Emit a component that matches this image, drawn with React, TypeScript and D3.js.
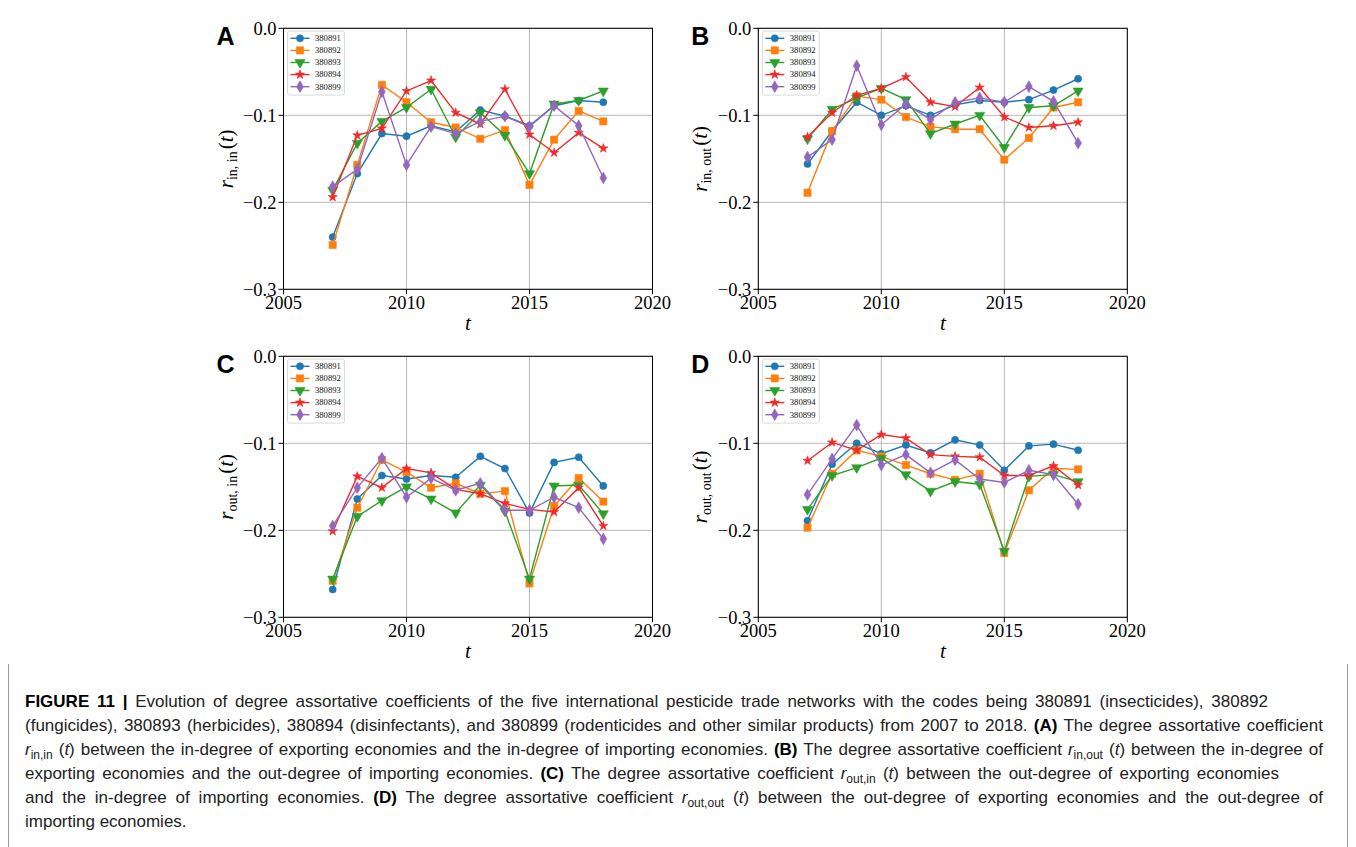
import { useLayoutEffect, useRef } from "react";
import * as d3 from "d3";

const years = [2007, 2008, 2009, 2010, 2011, 2012, 2013, 2014, 2015, 2016, 2017, 2018];
const codes = ["380891", "380892", "380893", "380894", "380899"];
const colors = ["#1f77b4", "#ff7f0e", "#2ca02c", "#f02a2a", "#9467bd"];
const xTicks = [2005, 2010, 2015, 2020];
const yTicks = [0, -0.1, -0.2, -0.3];

// one row per code, in the order of `codes`
const rInIn = [
  [-0.240, -0.167, -0.121, -0.124, -0.112, -0.119, -0.094, -0.101, -0.112, -0.089, -0.083, -0.085],
  [-0.249, -0.157, -0.065, -0.085, -0.108, -0.114, -0.127, -0.117, -0.180, -0.128, -0.095, -0.107],
  [-0.186, -0.132, -0.107, -0.091, -0.070, -0.125, -0.097, -0.123, -0.167, -0.087, -0.083, -0.072],
  [-0.194, -0.123, -0.115, -0.072, -0.060, -0.097, -0.110, -0.070, -0.122, -0.143, -0.120, -0.138],
  [-0.182, -0.162, -0.073, -0.157, -0.113, -0.121, -0.107, -0.101, -0.113, -0.089, -0.112, -0.172],
];
const rInOut = [
  [-0.156, -0.118, -0.085, -0.100, -0.089, -0.100, -0.088, -0.083, -0.085, -0.082, -0.071, -0.058],
  [-0.189, -0.118, -0.078, -0.082, -0.102, -0.113, -0.116, -0.116, -0.151, -0.126, -0.091, -0.085],
  [-0.127, -0.093, -0.080, -0.069, -0.082, -0.121, -0.110, -0.100, -0.137, -0.091, -0.089, -0.072],
  [-0.125, -0.097, -0.077, -0.069, -0.056, -0.085, -0.090, -0.068, -0.102, -0.114, -0.112, -0.108],
  [-0.148, -0.128, -0.043, -0.111, -0.087, -0.105, -0.085, -0.080, -0.085, -0.067, -0.084, -0.132],
];
const rOutIn = [
  [-0.268, -0.164, -0.137, -0.141, -0.137, -0.139, -0.115, -0.129, -0.180, -0.122, -0.116, -0.149],
  [-0.258, -0.174, -0.119, -0.133, -0.151, -0.146, -0.158, -0.155, -0.261, -0.172, -0.140, -0.167],
  [-0.256, -0.184, -0.166, -0.150, -0.164, -0.180, -0.148, -0.178, -0.256, -0.149, -0.148, -0.181],
  [-0.201, -0.138, -0.151, -0.129, -0.134, -0.153, -0.158, -0.169, -0.176, -0.179, -0.151, -0.195],
  [-0.195, -0.151, -0.117, -0.162, -0.140, -0.154, -0.146, -0.177, -0.177, -0.162, -0.174, -0.210],
];
const rOutOut = [
  [-0.189, -0.124, -0.100, -0.112, -0.102, -0.111, -0.096, -0.102, -0.131, -0.103, -0.101, -0.108],
  [-0.197, -0.135, -0.108, -0.115, -0.125, -0.135, -0.142, -0.135, -0.226, -0.154, -0.129, -0.130],
  [-0.176, -0.137, -0.128, -0.117, -0.136, -0.155, -0.144, -0.147, -0.224, -0.138, -0.136, -0.144],
  [-0.120, -0.099, -0.108, -0.090, -0.094, -0.113, -0.115, -0.116, -0.137, -0.137, -0.126, -0.148],
  [-0.159, -0.118, -0.079, -0.125, -0.113, -0.134, -0.119, -0.141, -0.145, -0.131, -0.136, -0.170],
];

const symbols = [d3.symbolCircle, d3.symbolSquare, d3.symbolTriangle, d3.symbolStar, d3.symbolDiamond];
const symbolSizes = [40, 52, 44, 26, 40];

const serif = "'Liberation Serif', 'DejaVu Serif', serif";
const sans = "'Liberation Sans', Arial, sans-serif";

const Marker = ({ i, x, y }: { i: number; x: number; y: number }) => {
  const d = d3.symbol(symbols[i], symbolSizes[i])()!;
  const rot = i === 2 ? " rotate(180)" : "";
  return <path d={d} transform={`translate(${x},${y})${rot}`} fill={colors[i]} stroke={colors[i]} strokeWidth={0.6} />;
};

interface PanelProps {
  letter: string;
  sub: string;
  values: number[][];
  left: number;
  top: number;
}

const Panel = ({ letter, sub, values, left, top }: PanelProps) => {
  const w = 369;
  const h = 261;
  const x = d3.scaleLinear().domain([2005, 2020]).range([left, left + w]);
  const y = d3.scaleLinear().domain([-0.3, 0]).range([top + h, top]);
  const fmt = d3.format(".1f");
  const line = d3
    .line<number>()
    .x((_, i) => x(years[i]))
    .y(v => y(v));

  return (
    <g>
      <text x={left - 67} y={top + 17} fontFamily={sans} fontWeight="bold" fontSize={25}>
        {letter}
      </text>

      {/* grid */}
      {xTicks.map(t => (
        <line key={"gx" + t} x1={x(t)} x2={x(t)} y1={top} y2={top + h} stroke="#b0b0b0" strokeWidth={0.9} />
      ))}
      {yTicks.map(t => (
        <line key={"gy" + t} x1={left} x2={left + w} y1={y(t)} y2={y(t)} stroke="#b0b0b0" strokeWidth={0.9} />
      ))}

      {/* series */}
      {values.map((vals, i) => (
        <g key={codes[i]}>
          <path d={line(vals)!} fill="none" stroke={colors[i]} strokeWidth={1.4} />
          {vals.map((v, j) => (
            <Marker key={j} i={i} x={x(years[j])} y={y(v)} />
          ))}
        </g>
      ))}

      {/* frame */}
      <rect x={left} y={top} width={w} height={h} fill="none" stroke="#000" strokeWidth={1} />

      {/* ticks */}
      {xTicks.map(t => (
        <g key={"tx" + t}>
          <line x1={x(t)} x2={x(t)} y1={top + h} y2={top + h + 5} stroke="#000" strokeWidth={1} />
          <text x={x(t)} y={top + h + 20} textAnchor="middle" fontFamily={serif} fontSize={18.5}>
            {t}
          </text>
        </g>
      ))}
      {yTicks.map(t => (
        <g key={"ty" + t}>
          <line x1={left - 5} x2={left} y1={y(t)} y2={y(t)} stroke="#000" strokeWidth={1} />
          <text x={left - 7} y={y(t)} dy="0.36em" textAnchor="end" fontFamily={serif} fontSize={18.5}>
            {fmt(t)}
          </text>
        </g>
      ))}

      {/* axis labels */}
      <text x={left + w / 2} y={top + h + 41} textAnchor="middle" fontFamily={serif} fontStyle="italic" fontSize={21}>
        t
      </text>
      <text transform={`translate(${left - 51},${top + h / 2}) rotate(-90)`} textAnchor="middle" fontFamily={serif} fontSize={21}>
        <tspan fontStyle="italic">r</tspan>
        <tspan fontSize={14} dy={4}>{sub}</tspan>
        <tspan dy={-4} dx={2}>(</tspan>
        <tspan fontStyle="italic">t</tspan>
        <tspan>)</tspan>
      </text>

      {/* legend */}
      <rect x={left + 4} y={top + 2.8} width={57} height={64} rx={2} fill="#fff" fillOpacity={0.85} stroke="#d0d0d0" strokeWidth={0.8} />
      {codes.map((c, i) => {
        const ly = top + 10 + i * 12.1;
        return (
          <g key={"lg" + c}>
            <line x1={left + 7} x2={left + 26} y1={ly} y2={ly} stroke={colors[i]} strokeWidth={1.4} />
            <Marker i={i} x={left + 16.5} y={ly} />
            <text x={left + 31.5} y={ly} dy="0.33em" fontFamily={serif} fontSize={8.6} fill="#111">
              {c}
            </text>
          </g>
        );
      })}
    </g>
  );
};

type Seg = { t: string; s?: "b" | "i" | "sub" };

const captionLines: Seg[][] = [
  [
    { t: "FIGURE 11 |", s: "b" },
    { t: " Evolution of degree assortative coefficients of the five international pesticide trade networks with the codes being 380891 (insecticides), 380892" },
  ],
  [
    { t: "(fungicides), 380893 (herbicides), 380894 (disinfectants), and 380899 (rodenticides and other similar products) from 2007 to 2018. " },
    { t: "(A)", s: "b" },
    { t: " The degree assortative coefficient" },
  ],
  [
    { t: "r", s: "i" },
    { t: "in,in", s: "sub" },
    { t: " (" },
    { t: "t", s: "i" },
    { t: ") between the in-degree of exporting economies and the in-degree of importing economies. " },
    { t: "(B)", s: "b" },
    { t: " The degree assortative coefficient " },
    { t: "r", s: "i" },
    { t: "in,out", s: "sub" },
    { t: " (" },
    { t: "t", s: "i" },
    { t: ") between the in-degree of" },
  ],
  [
    { t: "exporting economies and the out-degree of importing economies. " },
    { t: "(C)", s: "b" },
    { t: " The degree assortative coefficient " },
    { t: "r", s: "i" },
    { t: "out,in", s: "sub" },
    { t: " (" },
    { t: "t", s: "i" },
    { t: ") between the out-degree of exporting economies" },
  ],
  [
    { t: "and the in-degree of importing economies. " },
    { t: "(D)", s: "b" },
    { t: " The degree assortative coefficient " },
    { t: "r", s: "i" },
    { t: "out,out", s: "sub" },
    { t: " (" },
    { t: "t", s: "i" },
    { t: ") between the out-degree of exporting economies and the out-degree of" },
  ],
  [{ t: "importing economies." }],
];
// target line widths (0 = left as set)
const captionWidths = [1243, 1298, 1298, 1254, 1298, 0];

const Caption = () => {
  const refs = useRef<(SVGTextElement | null)[]>([]);

  // justify lines by stretching the word spaces, like the typeset caption
  useLayoutEffect(() => {
    refs.current.forEach((el, i) => {
      if (!el || !captionWidths[i]) return;
      el.setAttribute("word-spacing", "0");
      const natural = el.getComputedTextLength();
      const spaces = (el.textContent || "").split(" ").length - 1;
      if (spaces > 0) el.setAttribute("word-spacing", String((captionWidths[i] - natural) / spaces));
    });
  }, []);

  let shifted = false;
  return (
    <g fontFamily={sans} fontSize={17} fill="#222">
      <line x1={8.5} x2={8.5} y1={664} y2={847} stroke="#9a9a9a" strokeWidth={1} />
      <line x1={1347.5} x2={1347.5} y1={664} y2={847} stroke="#9a9a9a" strokeWidth={1} />
      {captionLines.map((segs, li) => (
        <text key={li} ref={el => (refs.current[li] = el)} x={25} y={707 + li * 24}>
          {segs.map((sg, k) => {
            let dy: number | undefined;
            if (sg.s === "sub") {
              dy = 3.5;
              shifted = true;
            } else if (shifted) {
              dy = -3.5;
              shifted = false;
            }
            return (
              <tspan
                key={k}
                dy={dy}
                fontWeight={sg.s === "b" ? "bold" : undefined}
                fontStyle={sg.s === "i" ? "italic" : undefined}
                fontSize={sg.s === "sub" ? 12 : undefined}
                fill={sg.s === "b" ? "#000" : undefined}
              >
                {sg.t}
              </tspan>
            );
          })}
        </text>
      ))}
    </g>
  );
};

export default function App() {
  return (
    <svg
      width={1356}
      height={847}
      style={{ position: "absolute", left: 0, top: 0, background: "#fff" }}
    >
      <Panel letter="A" sub="in, in" values={rInIn} left={283.5} top={28.3} />
      <Panel letter="B" sub="in, out" values={rInOut} left={758.3} top={28.3} />
      <Panel letter="C" sub="out, in" values={rOutIn} left={283.5} top={356.3} />
      <Panel letter="D" sub="out, out" values={rOutOut} left={758.3} top={356.3} />
      <Caption />
    </svg>
  );
}
